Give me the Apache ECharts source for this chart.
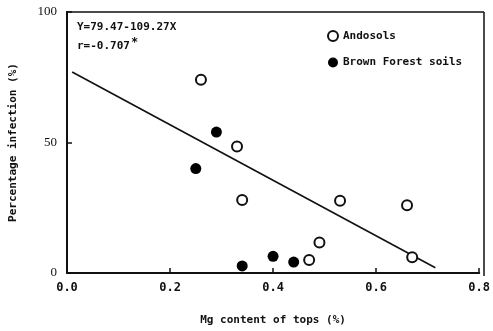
<!DOCTYPE html>
<html>
<head>
<meta charset="utf-8">
<script src="https://cdn.jsdelivr.net/npm/echarts@6/dist/echarts.min.js"></script>
<style>
  html, body { margin: 0; padding: 0; background: #fff; }
  #chart { width: 493px; height: 331px; }
</style>
</head>
<body>
<div id="chart"></div>
<script>
// values
const andosolsX = [0.26, 0.33, 0.34, 0.47, 0.49, 0.53, 0.66, 0.67];
const andosolsY = [74, 48.5, 28, 5, 11.7, 27.7, 26, 6];
const brownX = [0.25, 0.29, 0.34, 0.40, 0.44];
const brownY = [40, 54, 2.7, 6.4, 4.2];
// regression line ends as drawn
const fitX = [0.01, 0.715];
const fitY = [77, 2];
const xTicks = [0, 0.2, 0.4, 0.6, 0.8];
const yTicks = [0, 50, 100];

const font = 'DejaVu Sans Mono';
const zip = (xs, ys) => xs.map((x, i) => [x, ys[i]]);

const chart = echarts.init(document.getElementById('chart'));
chart.setOption({
  animation: false,
  grid: { left: 66, right: 9, top: 12, bottom: 55 },
  xAxis: {
    type: 'value', min: 0, max: 0.8, interval: 0.2,
    name: 'Mg content of tops (%)', nameLocation: 'middle', nameGap: 42,
    nameTextStyle: { fontFamily: font, fontWeight: 'bold', fontSize: 11, color: '#111' },
    axisLine: { lineStyle: { color: '#111', width: 2 } },
    axisTick: { inside: true, length: 5, lineStyle: { color: '#111', width: 1.5 } },
    axisLabel: {
      fontFamily: font, fontWeight: 'bold', fontSize: 12, color: '#111', margin: 9,
      formatter: v => xTicks.includes(+v.toFixed(1)) ? v.toFixed(1) : ''
    },
    splitLine: { show: false }
  },
  yAxis: {
    type: 'value', min: 0, max: 100, interval: 50,
    name: 'Percentage infection (%)', nameLocation: 'middle', nameGap: 48,
    nameTextStyle: { fontFamily: font, fontWeight: 'bold', fontSize: 11, color: '#111' },
    axisLine: { lineStyle: { color: '#111', width: 2 } },
    axisTick: { inside: true, length: 5, lineStyle: { color: '#111', width: 1.5 } },
    axisLabel: {
      fontFamily: 'Liberation Serif', fontSize: 13, color: '#111', margin: 10,
      formatter: v => yTicks.includes(v) ? String(v) : ''
    },
    splitLine: { show: false }
  },
  legend: {
    orient: 'vertical', left: 322, top: 25, itemGap: 15,
    itemWidth: 10, itemHeight: 10,
    textStyle: { fontFamily: font, fontWeight: 'bold', fontSize: 11, color: '#111' },
    data: ['Andosols', 'Brown Forest soils']
  },
  graphic: [
    // frame on top and right
    { type: 'line', shape: { x1: 66, y1: 12, x2: 484, y2: 12 }, style: { stroke: '#111', lineWidth: 1.5 } },
    { type: 'line', shape: { x1: 484, y1: 12, x2: 484, y2: 276 }, style: { stroke: '#111', lineWidth: 1.5 } },
    { type: 'text', left: 77, top: 22, style: { text: 'Y=79.47-109.27X', font: 'bold 11px "DejaVu Sans Mono"', fill: '#111' } },
    { type: 'text', left: 77, top: 41, style: { text: 'r=-0.707', font: 'bold 11px "DejaVu Sans Mono"', fill: '#111' } },
    { type: 'text', left: 131, top: 37, style: { text: '*', font: 'bold 12px "DejaVu Sans Mono"', fill: '#111' } }
  ],
  series: [
    {
      type: 'line', data: zip(fitX, fitY), symbol: 'none',
      lineStyle: { color: '#111', width: 1.6 }, silent: true
    },
    {
      name: 'Andosols', type: 'scatter', data: zip(andosolsX, andosolsY),
      symbol: 'circle', symbolSize: 10,
      itemStyle: { color: '#fff', borderColor: '#111', borderWidth: 2, opacity: 1 }, z: 3
    },
    {
      name: 'Brown Forest soils', type: 'scatter', data: zip(brownX, brownY),
      symbol: 'circle', symbolSize: 11,
      itemStyle: { color: '#000', opacity: 1 }, z: 3
    }
  ]
});
</script>
</body>
</html>
